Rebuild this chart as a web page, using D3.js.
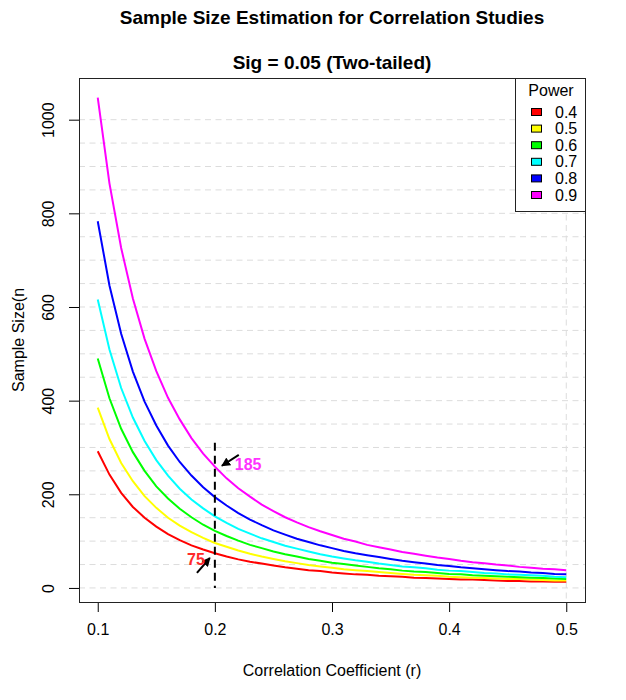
<!DOCTYPE html>
<html>
<head>
<meta charset="utf-8">
<title>Sample Size Estimation for Correlation Studies</title>
<script src="https://d3js.org/d3.v7.min.js"></script>
<style>
  body { margin: 0; background: #fff; }
  svg text { font-family: "Liberation Sans", Arial, Helvetica, sans-serif; }
</style>
</head>
<body>
<div id="chart"></div>
<script>
// correlation coefficient r (0.10 .. 0.50)
const rValues = [0.10, 0.11, 0.12, 0.13, 0.14, 0.15, 0.16, 0.17, 0.18, 0.19,
                 0.20, 0.21, 0.22, 0.23, 0.24, 0.25, 0.26, 0.27, 0.28, 0.29,
                 0.30, 0.31, 0.32, 0.33, 0.34, 0.35, 0.36, 0.37, 0.38, 0.39,
                 0.40, 0.41, 0.42, 0.43, 0.44, 0.45, 0.46, 0.47, 0.48, 0.49, 0.50]

const powerLevels = ["0.4", "0.5", "0.6", "0.7", "0.8", "0.9"]
const powerColors = ["#ff0000", "#ffff00", "#00ff00", "#00ffff", "#0000ff", "#ff00ff"]

// sample size
const n04 = [292, 242, 203, 173, 150, 131, 115, 102, 91, 82,
             74, 67, 61, 56, 52, 48, 44, 41, 38, 36,
             33, 31, 29, 28, 26, 25, 24, 22, 21, 20,
             19, 18, 18, 17, 16, 15, 15, 14, 14, 13, 13]
const n05 = [385, 318, 267, 228, 196, 171, 150, 133, 119, 107,
             96, 88, 80, 73, 67, 62, 57, 53, 49, 46,
             43, 40, 38, 36, 34, 32, 30, 28, 27, 26,
             24, 23, 22, 21, 20, 19, 19, 18, 17, 16, 16]
const n06 = [490, 405, 340, 290, 250, 217, 191, 169, 151, 135,
             122, 111, 101, 92, 85, 78, 72, 67, 62, 58,
             54, 51, 48, 45, 42, 40, 37, 35, 34, 32,
             30, 29, 27, 26, 25, 24, 23, 22, 21, 20, 19]
const n07 = [616, 509, 427, 364, 314, 273, 240, 212, 189, 170,
             153, 139, 126, 116, 106, 98, 90, 84, 78, 72,
             67, 63, 59, 56, 52, 49, 46, 44, 42, 39,
             37, 36, 34, 32, 31, 29, 28, 27, 26, 24, 23]
const n08 = [783, 646, 543, 462, 398, 347, 304, 269, 240, 215,
             194, 176, 160, 146, 134, 123, 114, 105, 98, 91,
             85, 79, 74, 70, 66, 62, 58, 55, 52, 49,
             47, 44, 42, 40, 38, 36, 35, 33, 32, 30, 29]
const n09 = [1047, 864, 726, 618, 532, 463, 406, 360, 320, 287,
             259, 234, 213, 195, 178, 164, 151, 140, 130, 121,
             113, 105, 99, 92, 87, 82, 77, 73, 69, 65,
             62, 58, 55, 53, 50, 48, 45, 43, 41, 40, 38]

const seriesValues = [n04, n05, n06, n07, n08, n09]

const xTicks = [0.1, 0.2, 0.3, 0.4, 0.5]
const yTicks = [0, 200, 400, 600, 800, 1000]
const gridValues = d3.range(0, 1001, 50)

// reference line at r = 0.2 and the two marked points
const refR = 0.2
const refTop = 310
const notes = [
    { text: "75", color: "#ff2a2a", tx: 0.1838, ty: 62, anchor: "middle", x1: 0.1847, y1: 32, x2: 0.1957, y2: 64 },
    { text: "185", color: "#ff33ff", tx: 0.2170, ty: 263, anchor: "start", x1: 0.2204, y1: 284, x2: 0.2060, y2: 261 }
]

const w = 626, h = 700
const box = { left: 79, right: 585, top: 78, bottom: 602 }

const svg = d3.select("#chart").append("svg")
    .attr("width", w)
    .attr("height", h)

const x = d3.scaleLinear().domain([0.084, 0.516]).range([box.left, box.right])
const y = d3.scaleLinear().domain([-30, 1089]).range([box.bottom, box.top])

// grid
svg.append("g").selectAll("line")
    .data(gridValues)
    .join("line")
    .attr("x1", box.left).attr("x2", box.right)
    .attr("y1", d => y(d)).attr("y2", d => y(d))
    .attr("stroke", "#dcdcdc")
    .attr("stroke-dasharray", "6,4.5")
svg.append("line")
    .attr("x1", x(0.5)).attr("x2", x(0.5))
    .attr("y1", box.top).attr("y2", box.bottom)
    .attr("stroke", "#dcdcdc")
    .attr("stroke-dasharray", "6,4.5")

// curves
const line = d3.line()
    .x((d, i) => x(rValues[i]))
    .y(d => y(d))

svg.append("g").selectAll("path")
    .data(seriesValues)
    .join("path")
    .attr("d", d => line(d))
    .attr("fill", "none")
    .attr("stroke", (d, i) => powerColors[i])
    .attr("stroke-width", 2)

// dashed marker at r = 0.2
svg.append("line")
    .attr("x1", x(refR)).attr("x2", x(refR))
    .attr("y1", y(refTop)).attr("y2", y(0))
    .attr("stroke", "black")
    .attr("stroke-width", 2)
    .attr("stroke-dasharray", "8,5")

svg.append("defs").append("marker")
    .attr("id", "head")
    .attr("viewBox", "0 0 10 10")
    .attr("refX", 9).attr("refY", 5)
    .attr("markerWidth", 4.5).attr("markerHeight", 4.5)
    .attr("orient", "auto")
    .append("path")
    .attr("d", "M0,0L10,5L0,10z")
    .attr("fill", "black")

notes.forEach(n => {
    svg.append("line")
        .attr("x1", x(n.x1)).attr("y1", y(n.y1))
        .attr("x2", x(n.x2)).attr("y2", y(n.y2))
        .attr("stroke", "black")
        .attr("stroke-width", 2)
        .attr("marker-end", "url(#head)")
    svg.append("text")
        .attr("x", x(n.tx)).attr("y", y(n.ty))
        .attr("dy", "0.35em")
        .attr("text-anchor", n.anchor)
        .attr("fill", n.color)
        .attr("font-weight", "bold")
        .attr("font-size", 16)
        .text(n.text)
})

// axes
const xAxis = svg.append("g")
    .attr("transform", "translate(0," + box.bottom + ")")
    .call(d3.axisBottom(x).tickValues(xTicks).tickSize(10).tickSizeOuter(0).tickPadding(12).tickFormat(d3.format(".1f")))
xAxis.select(".domain").remove()
xAxis.selectAll("text").attr("font-size", 16).attr("fill", "black")

const yAxis = svg.append("g")
    .attr("transform", "translate(" + box.left + ",0)")
    .call(d3.axisLeft(y).tickValues(yTicks).tickSize(10).tickSizeOuter(0).tickFormat(d3.format("d")))
yAxis.select(".domain").remove()
yAxis.selectAll("text")
    .attr("x", null).attr("dy", "0.35em")
    .attr("transform", "translate(-31,0) rotate(-90)")
    .attr("text-anchor", "middle")
    .attr("font-size", 16).attr("fill", "black")

// plot box
svg.append("rect")
    .attr("x", box.left + 0.5).attr("y", box.top + 0.5)
    .attr("width", box.right - box.left).attr("height", box.bottom - box.top)
    .attr("fill", "none")
    .attr("stroke", "#222")

// titles
svg.append("text")
    .attr("x", (box.left + box.right) / 2).attr("y", 24)
    .attr("text-anchor", "middle").attr("font-weight", "bold").attr("font-size", 19)
    .text("Sample Size Estimation for Correlation Studies")
svg.append("text")
    .attr("x", (box.left + box.right) / 2).attr("y", 69)
    .attr("text-anchor", "middle").attr("font-weight", "bold").attr("font-size", 19)
    .text("Sig = 0.05 (Two-tailed)")
svg.append("text")
    .attr("x", (box.left + box.right) / 2).attr("y", 676)
    .attr("text-anchor", "middle").attr("font-size", 16)
    .text("Correlation Coefficient (r)")
svg.append("text")
    .attr("transform", "translate(18," + (box.top + box.bottom) / 2 + ") rotate(-90)")
    .attr("dy", "0.35em")
    .attr("text-anchor", "middle").attr("font-size", 16)
    .text("Sample Size(n")

// legend
const legend = svg.append("g")
legend.append("rect")
    .attr("x", 515.5).attr("y", box.top + 0.5)
    .attr("width", box.right - 515).attr("height", 133)
    .attr("fill", "white").attr("stroke", "#222")
legend.append("text")
    .attr("x", 551).attr("y", 90).attr("dy", "0.35em")
    .attr("text-anchor", "middle").attr("font-size", 16)
    .text("Power")
const rows = legend.selectAll("g.row")
    .data(powerLevels)
    .join("g")
    .attr("class", "row")
    .attr("transform", (d, i) => "translate(0," + (112 + i * 16.6) + ")")
rows.append("rect")
    .attr("x", 531.5).attr("y", -3.5)
    .attr("width", 10).attr("height", 7)
    .attr("fill", (d, i) => powerColors[i])
    .attr("stroke", "black")
rows.append("text")
    .attr("x", 555).attr("dy", "0.35em")
    .attr("font-size", 16)
    .text(d => d)
</script>
</body>
</html>
